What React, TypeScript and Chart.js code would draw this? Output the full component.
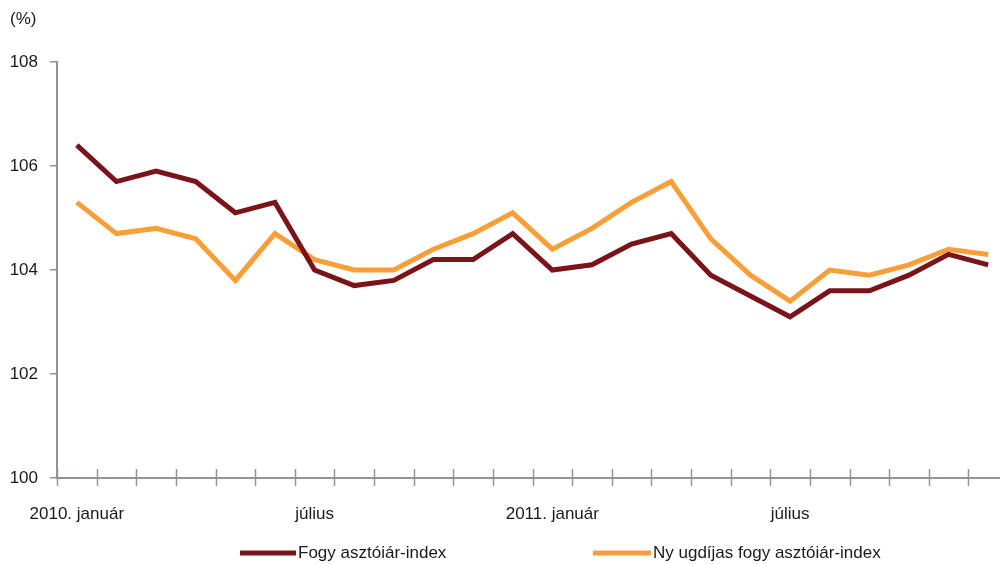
import React, { useEffect, useRef } from "react";
import { Chart, registerables } from "chart.js";

Chart.register(...registerables);

const months: string[] = [
  "2010-01", "2010-02", "2010-03", "2010-04", "2010-05", "2010-06",
  "2010-07", "2010-08", "2010-09", "2010-10", "2010-11", "2010-12",
  "2011-01", "2011-02", "2011-03", "2011-04", "2011-05", "2011-06",
  "2011-07", "2011-08", "2011-09", "2011-10", "2011-11", "2011-12",
];

const tickLabels: Record<number, string> = {
  0: "2010. január",
  6: "július",
  12: "2011. január",
  18: "július",
};

const cpi: number[] = [
  106.4, 105.7, 105.9, 105.7, 105.1, 105.3,
  104.0, 103.7, 103.8, 104.2, 104.2, 104.7,
  104.0, 104.1, 104.5, 104.7, 103.9, 103.5,
  103.1, 103.6, 103.6, 103.9, 104.3, 104.1,
];

const pensionerCpi: number[] = [
  105.3, 104.7, 104.8, 104.6, 103.8, 104.7,
  104.2, 104.0, 104.0, 104.4, 104.7, 105.1,
  104.4, 104.8, 105.3, 105.7, 104.6, 103.9,
  103.4, 104.0, 103.9, 104.1, 104.4, 104.3,
];

const seriesNames: string[] = ["Fogy asztóiár-index", "Ny ugdíjas fogy asztóiár-index"];
const seriesColors: string[] = ["#7A1418", "#F99F38"];

const AXIS = "#8E949A";
const TEXT = "#1a1a1a";
const FONT = "'Liberation Sans Narrow', 'Liberation Sans', Arial, sans-serif";

const decor = {
  id: "decor",
  afterDraw(chart: any) {
    const { ctx, chartArea } = chart;
    ctx.save();
    // crossing tick marks on x axis
    const n = months.length;
    const w = (chartArea.right - chartArea.left) / n;
    ctx.strokeStyle = AXIS;
    ctx.lineWidth = 1.5;
    for (let i = 0; i <= n; i++) {
      const px = Math.round(chartArea.left + i * w) + 0.5;
      ctx.beginPath();
      ctx.moveTo(px, chartArea.bottom - 9);
      ctx.lineTo(px, chartArea.bottom + 8);
      ctx.stroke();
    }
    // unit label
    ctx.fillStyle = TEXT;
    ctx.font = `17px ${FONT}`;
    ctx.textBaseline = "middle";
    ctx.textAlign = "left";
    ctx.fillText("(%)", 10, 19);
    // legend
    const items = [
      { x0: 240, x1: 296, tx: 298 },
      { x0: 593, x1: 651, tx: 653 },
    ];
    items.forEach((it, i) => {
      ctx.strokeStyle = seriesColors[i];
      ctx.lineWidth = 5;
      ctx.beginPath();
      ctx.moveTo(it.x0, 553);
      ctx.lineTo(it.x1, 553);
      ctx.stroke();
      ctx.fillStyle = TEXT;
      ctx.fillText(seriesNames[i], it.tx, 553);
    });
    ctx.restore();
  },
};

export default function App() {
  const ref = useRef<HTMLCanvasElement>(null);
  useEffect(() => {
    if (!ref.current) return;
    const chart = new Chart(ref.current, {
      type: "line",
      data: {
        labels: months,
        datasets: [
          {
            label: seriesNames[0],
            data: cpi,
            borderColor: seriesColors[0],
            backgroundColor: seriesColors[0],
            borderWidth: 5,
            pointRadius: 0,
            tension: 0,
          },
          {
            label: seriesNames[1],
            data: pensionerCpi,
            borderColor: seriesColors[1],
            backgroundColor: seriesColors[1],
            borderWidth: 5,
            pointRadius: 0,
            tension: 0,
          },
        ],
      },
      options: {
        animation: false,
        responsive: false,
        layout: { padding: { top: 62, right: 2, left: 0, bottom: 0 } },
        plugins: { legend: { display: false }, tooltip: { enabled: false } },
        scales: {
          x: {
            offset: true,
            border: { color: AXIS, width: 2 },
            grid: { display: false },
            ticks: {
              autoSkip: false,
              maxRotation: 0,
              color: TEXT,
              font: { family: FONT, size: 17 },
              padding: 18,
              callback: (_v: any, i: number) => tickLabels[i] ?? "",
            },
            afterFit: (s: any) => {
              s.height = 86;
            },
          },
          y: {
            min: 100,
            max: 108,
            border: { color: AXIS, width: 2 },
            grid: { drawOnChartArea: false, color: AXIS, lineWidth: 1.5, tickLength: 7 },
            ticks: {
              stepSize: 2,
              color: TEXT,
              font: { family: FONT, size: 17 },
              padding: 12,
            },
            afterFit: (s: any) => {
              s.width = 57;
            },
          },
        },
      },
      plugins: [decor],
    });
    return () => chart.destroy();
  }, []);
  return (
    <div style={{ position: "fixed", left: 0, top: 0, width: 1000, height: 564, overflow: "hidden", background: "#fff" }}>
      <canvas ref={ref} width={1010} height={564} style={{ width: 1010, height: 564 }} />
    </div>
  );
}
